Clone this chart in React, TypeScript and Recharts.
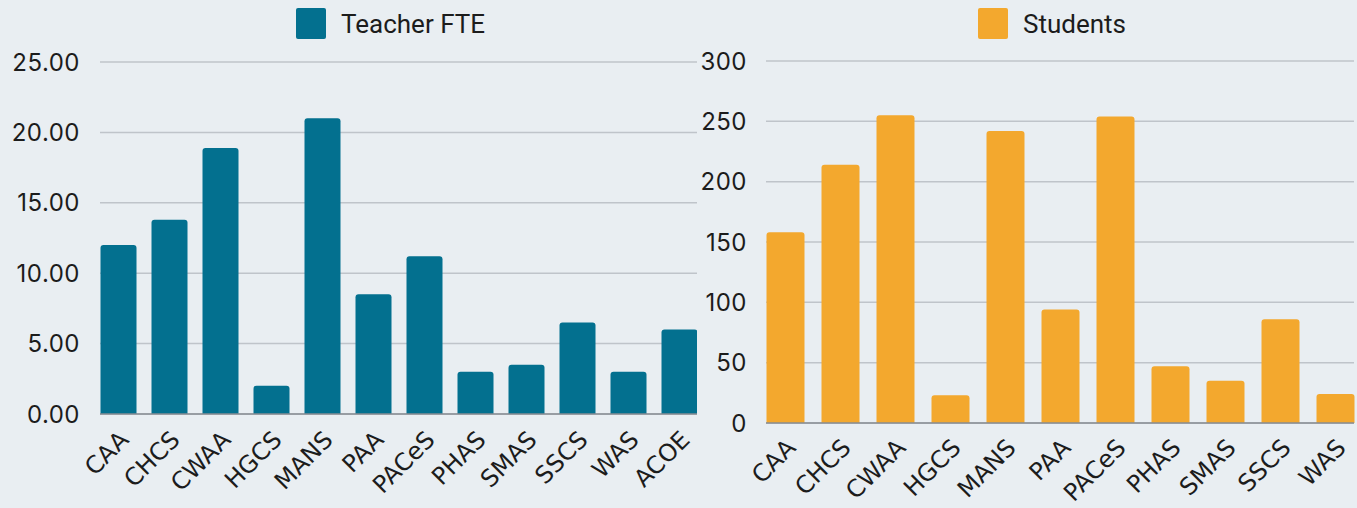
import { BarChart, Bar, XAxis, YAxis, CartesianGrid } from "recharts"

const teacherSchools = ["CAA", "CHCS", "CWAA", "HGCS", "MANS", "PAA", "PACeS", "PHAS", "SMAS", "SSCS", "WAS", "ACOE"]
const teacherFte = [12, 13.8, 18.9, 2, 21, 8.5, 11.2, 3, 3.5, 6.5, 3, 6]
const teacherTicks = [0, 5, 10, 15, 20, 25]

const studentSchools = ["CAA", "CHCS", "CWAA", "HGCS", "MANS", "PAA", "PACeS", "PHAS", "SMAS", "SSCS", "WAS"]
const studentCounts = [158, 214, 255, 23, 242, 94, 254, 47, 35, 86, 24]
const studentTicks = [0, 50, 100, 150, 200, 250, 300]

const teacherData = teacherSchools.map((school, i) => ({ school, fte: teacherFte[i] }))
const studentData = studentSchools.map((school, i) => ({ school, students: studentCounts[i] }))

const TEAL = "#03708f"
const ORANGE = "#f3a82e"
const BG = "#e9eef2"
const GRID = "#bfc4ca"
const AXIS = "#878c93"
const TEXT = "#1c1c1c"

const yTick = { fontSize: 24, fill: TEXT, style: { fontFamily: "Inter, sans-serif", letterSpacing: 0.5 } }

// rotated school names, text end sits on the tick
function SchoolTick({ x, y, payload }: { x?: number; y?: number; payload?: { value: string } }) {
  return (
    <g transform={`translate(${x},${y})`}>
      <text
        transform="rotate(-45)"
        textAnchor="end"
        dy="0.72em"
        fill={TEXT}
        fontSize={24}
        fontFamily="'DejaVu Sans', sans-serif"
      >
        {payload?.value}
      </text>
    </g>
  )
}

function LegendItem({ left, color, label }: { left: number; color: string; label: string }) {
  return (
    <div
      style={{
        position: "absolute",
        left,
        top: 8,
        display: "flex",
        alignItems: "center",
        fontFamily: "Roboto, sans-serif",
        fontSize: 26,
        color: TEXT,
      }}
    >
      <span
        style={{
          display: "inline-block",
          width: 30,
          height: 31,
          borderRadius: 2,
          background: color,
          marginRight: 15,
        }}
      />
      {label}
    </div>
  )
}

export default function App() {
  return (
    <div
      style={{
        position: "absolute",
        left: 0,
        top: 0,
        width: 1357,
        height: 508,
        background: BG,
        overflow: "hidden",
      }}
    >
      <div style={{ position: "absolute", left: 0, top: 0 }}>
        <BarChart
          width={697}
          height={508}
          data={teacherData}
          margin={{ top: 62, right: 0, left: 0, bottom: 0 }}
        >
          <CartesianGrid vertical={false} stroke={GRID} strokeWidth={1.5} />
          <XAxis
            dataKey="school"
            interval={0}
            height={94}
            padding={{ left: -7.5, right: -7.5 }}
            axisLine={{ stroke: AXIS, strokeWidth: 1.5 }}
            tickLine={false}
            tickSize={0}
            tickMargin={15}
            tick={<SchoolTick />}
          />
          <YAxis
            width={100}
            domain={[0, 25]}
            ticks={teacherTicks}
            tickFormatter={(v: number) => v.toFixed(2)}
            axisLine={false}
            tickLine={false}
            tickSize={0}
            tickMargin={20}
            tick={yTick}
          />
          <Bar dataKey="fte" fill={TEAL} barSize={36} radius={[3, 3, 0, 0]} isAnimationActive={false} />
        </BarChart>
      </div>
      <div style={{ position: "absolute", left: 697, top: 0 }}>
        <BarChart
          width={660}
          height={508}
          data={studentData}
          margin={{ top: 61, right: 3, left: 0, bottom: 0 }}
        >
          <CartesianGrid vertical={false} stroke={GRID} strokeWidth={1.5} />
          <XAxis
            dataKey="school"
            interval={0}
            height={85}
            padding={{ left: -8.5, right: -8.5 }}
            axisLine={{ stroke: AXIS, strokeWidth: 1.5 }}
            tickLine={false}
            tickSize={0}
            tickMargin={14}
            tick={<SchoolTick />}
          />
          <YAxis
            width={69}
            domain={[0, 300]}
            ticks={studentTicks}
            axisLine={false}
            tickLine={false}
            tickSize={0}
            tickMargin={19}
            tick={yTick}
          />
          <Bar dataKey="students" fill={ORANGE} barSize={38} radius={[3, 3, 0, 0]} isAnimationActive={false} />
        </BarChart>
      </div>
      <LegendItem left={296} color={TEAL} label="Teacher FTE" />
      <LegendItem left={978} color={ORANGE} label="Students" />
    </div>
  )
}
